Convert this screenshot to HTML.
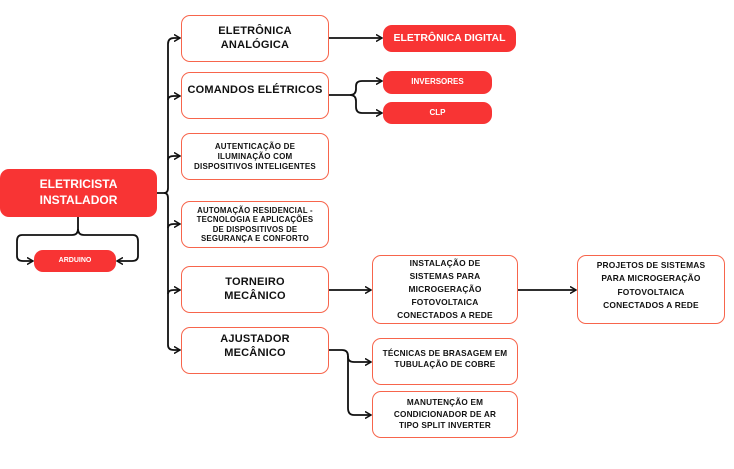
<!DOCTYPE html>
<html><head><meta charset="utf-8"><style>
body{margin:0;width:734px;height:469px;background:#fff;position:relative;overflow:hidden;font-family:"Liberation Sans",sans-serif;}
.b{position:absolute;box-sizing:border-box;border:1.5px solid #f7654c;border-radius:9px;background:#fff;display:flex;align-items:center;justify-content:center;text-align:center;font-weight:bold;color:#111;line-height:1.25;letter-spacing:0.2px}
.r{position:absolute;box-sizing:border-box;border-radius:9px;background:#f83434;color:#fff;display:flex;align-items:center;justify-content:center;text-align:center;font-weight:bold;line-height:1.3;}
svg{position:absolute;left:0;top:0}
</style></head><body>
<svg width="734" height="469" viewBox="0 0 734 469">
<defs><marker id="a" markerWidth="8" markerHeight="8" refX="6" refY="4" orient="auto" markerUnits="userSpaceOnUse"><path d="M0,0.5 L6,4 L0,7.5" fill="none" stroke="#111" stroke-width="1.5"/></marker></defs>
<g fill="none" stroke="#111" stroke-width="1.8">
<path d="M157,193 H164 Q168,193 168,188 V44 Q168,38 174,38 H180" marker-end="url(#a)"/>
<path d="M168,100 Q168,96 174,96 H180" marker-end="url(#a)"/>
<path d="M168,160 Q168,156 174,156 H180" marker-end="url(#a)"/>
<path d="M164,193 Q168,193 168,198 V345 Q168,350 174,350 H180" marker-end="url(#a)"/>
<path d="M168,228 Q168,224 174,224 H180" marker-end="url(#a)"/>
<path d="M168,294 Q168,290 174,290 H180" marker-end="url(#a)"/>
<path d="M78,217 V229 Q78,235 72,235 H22 Q17,235 17,241 V256 Q17,261 23,261 H33" marker-end="url(#a)"/>
<path d="M78,229 Q78,235 84,235 H133 Q138,235 138,241 V256 Q138,261 132,261 H117" marker-end="url(#a)"/>
<path d="M329,38 H382" marker-end="url(#a)"/>
<path d="M329,95 H350 Q356,95 356,89 V86 Q356,81 362,81 H382" marker-end="url(#a)"/>
<path d="M350,95 Q356,95 356,101 V107 Q356,113 362,113 H382" marker-end="url(#a)"/>
<path d="M329,290 H371" marker-end="url(#a)"/>
<path d="M518,290 H576" marker-end="url(#a)"/>
<path d="M329,350 H342 Q348,350 348,356 V357 Q348,362 354,362 H371" marker-end="url(#a)"/>
<path d="M348,356 V408 Q348,415 354,415 H371" marker-end="url(#a)"/>
</g></svg>
<div class="r" style="left:0;top:169px;width:157px;height:48px;font-size:12px">ELETRICISTA<br>INSTALADOR</div>
<div class="r" style="left:34px;top:250px;width:82px;height:22px;font-size:7px">ARDUINO</div>
<div class="b" style="left:181px;top:15px;width:148px;height:47px;font-size:11px">ELETRÔNICA<br>ANALÓGICA</div>
<div class="b" style="left:181px;top:72px;width:148px;height:47px;font-size:11px;padding-bottom:10px">COMANDOS ELÉTRICOS</div>
<div class="b" style="left:181px;top:133px;width:148px;height:47px;font-size:8px">AUTENTICAÇÃO DE<br>ILUMINAÇÃO COM<br>DISPOSITIVOS INTELIGENTES</div>
<div class="b" style="left:181px;top:201px;width:148px;height:47px;font-size:7.8px;line-height:1.2">AUTOMAÇÃO RESIDENCIAL -<br>TECNOLOGIA E APLICAÇÕES<br>DE DISPOSITIVOS DE<br>SEGURANÇA E CONFORTO</div>
<div class="b" style="left:181px;top:266px;width:148px;height:47px;font-size:11px">TORNEIRO<br>MECÂNICO</div>
<div class="b" style="left:181px;top:327px;width:148px;height:47px;font-size:11px;padding-bottom:8px">AJUSTADOR<br>MECÂNICO</div>
<div class="r" style="left:383px;top:25px;width:133px;height:27px;font-size:10.5px">ELETRÔNICA DIGITAL</div>
<div class="r" style="left:383px;top:71px;width:109px;height:23px;font-size:8px">INVERSORES</div>
<div class="r" style="left:383px;top:102px;width:109px;height:22px;font-size:8px">CLP</div>
<div class="b" style="left:372px;top:255px;width:146px;height:69px;font-size:8.4px;line-height:1.55">INSTALAÇÃO DE<br>SISTEMAS PARA<br>MICROGERAÇÃO<br>FOTOVOLTAICA<br>CONECTADOS A REDE</div>
<div class="b" style="left:577px;top:255px;width:148px;height:69px;font-size:8.4px;line-height:1.55;padding-bottom:8px">PROJETOS DE SISTEMAS<br>PARA MICROGERAÇÃO<br>FOTOVOLTAICA<br>CONECTADOS A REDE</div>
<div class="b" style="left:372px;top:338px;width:146px;height:47px;font-size:8.2px;padding-bottom:4px">TÉCNICAS DE BRASAGEM EM<br>TUBULAÇÃO DE COBRE</div>
<div class="b" style="left:372px;top:391px;width:146px;height:47px;font-size:8.2px;line-height:1.4">MANUTENÇÃO EM<br>CONDICIONADOR DE AR<br>TIPO SPLIT INVERTER</div>
</body></html>
